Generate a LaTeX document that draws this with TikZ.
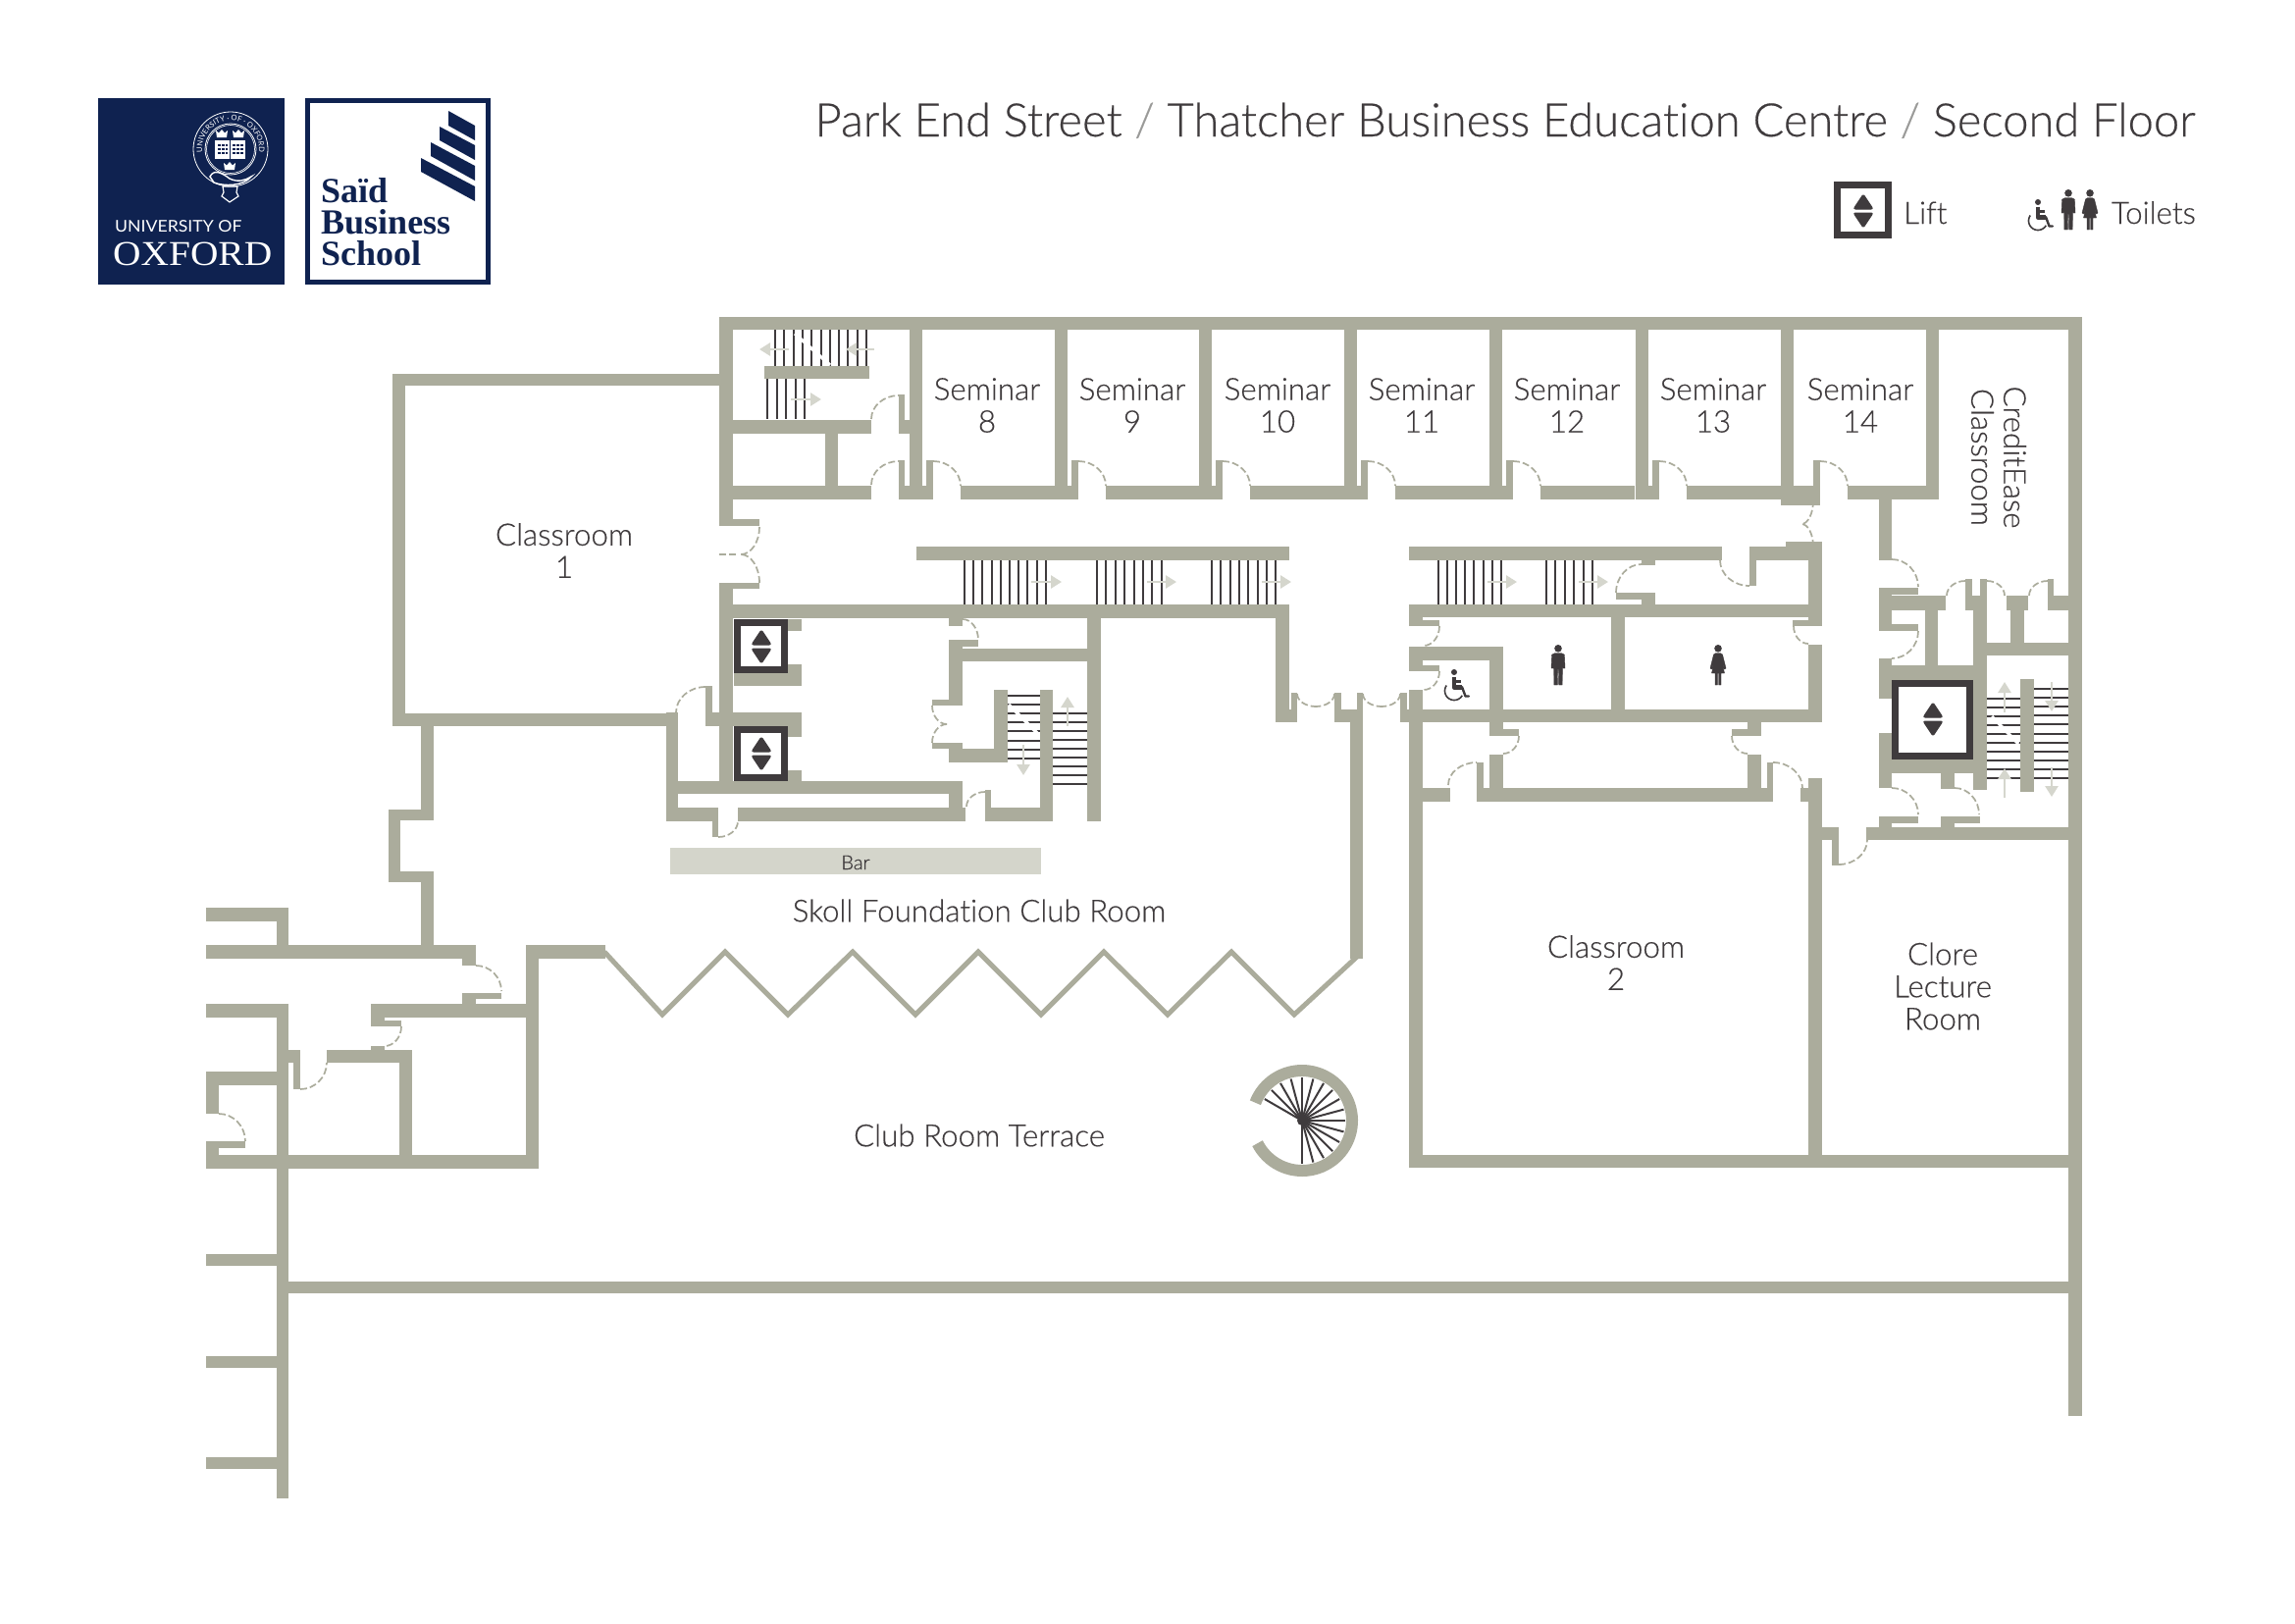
\documentclass[tikz,border=0pt]{standalone}
\usepackage{fontspec}
\setmainfont{Lato Light}[RawFeature={embolden=0.35;-liga;-dlig}]
\newfontfamily\latoreg{Lato}
\newfontfamily\serifd{Liberation Serif}
\usetikzlibrary{calc,arrows.meta,decorations.text}
\definecolor{wallc}{HTML}{ABAC9C}
\definecolor{darkc}{HTML}{3F3B3D}
\definecolor{arrowc}{HTML}{D5D6CD}
\definecolor{barc}{HTML}{D4D5CB}
\definecolor{navy}{HTML}{0F2250}
\definecolor{slashc}{HTML}{9A9A98}
\tikzset{
  doorarc/.style={draw=wallc,line width=1.7pt,dash pattern=on 7pt off 3pt},
  stairline/.style={draw=darkc,line width=2pt},
  lab/.style={font=\fontsize{31.3}{33}\selectfont,text=darkc,align=center,inner sep=0pt},
  ico/.style={fill=darkc,draw=darkc,line width=.4pt,line join=round},
  flowarrow/.style={draw=arrowc,line width=2.6pt,-{Triangle[length=11pt,width=13pt]}},
}
\newcommand{\Wl}[4]{\fill[wallc] (#1,#2) rectangle (#3,#4);}
\newcommand{\Dr}[6]{\draw[doorarc] (#1,#2) .. controls ($(#1,#2)!.55!(#3,#4)$) and ($(#5,#6)!.55!(#3,#4)$) .. (#5,#6);}
\newcommand{\Ar}[4]{\draw[flowarrow] (#1,#2) -- (#3,#4);}
\newcommand{\Stv}[5]{\foreach \i in {1,...,#3}{\draw[stairline] ({#1+(\i-1)*#2},#4) -- ({#1+(\i-1)*#2},#5);}}
\newcommand{\Sth}[5]{\foreach \i in {1,...,#5}{\draw[stairline] (#1,{#3+(\i-1)*#4}) -- (#2,{#3+(\i-1)*#4});}}
\newcommand{\Cut}[4]{\draw[white,line width=3.2pt] (#1,#2) -- (#3,#4);}
\newcommand{\Tri}[2]{%
  \fill[darkc,draw=darkc,line width=1pt,line join=round,rounded corners=2pt] (#1-10,#2-2) -- (#1,#2-17) -- (#1+10,#2-2) -- cycle;
  \fill[darkc,draw=darkc,line width=1pt,line join=round,rounded corners=2pt] (#1-10,#2+2) -- (#1,#2+17) -- (#1+10,#2+2) -- cycle;}
\newcommand{\Lft}[4]{\draw[darkc,line width=7pt] (#1+3.5,#2+3.5) rectangle (#3-3.5,#4-3.5);}
\newcommand{\Man}[3]{\begin{scope}[shift={(#1,#2)},scale=#3]
  \fill[darkc] (0,3.8) circle[radius=3.8];
  \fill[ico] (-3.5,8.7) -- (3.5,8.7) -- (6.4,10.2) -- (7,24) -- (5.2,24) -- (4.4,14) -- (4.2,41) -- (.7,41) -- (.4,25) -- (-.4,25) -- (-.7,41) -- (-4.2,41) -- (-4.4,14) -- (-5.2,24) -- (-7,24) -- (-6.4,10.2) -- cycle;
\end{scope}}
\newcommand{\Wom}[3]{\begin{scope}[shift={(#1,#2)},scale=#3]
  \fill[darkc] (0,3.8) circle[radius=3.8];
  \fill[ico] (-2.5,8.7) -- (2.5,8.7) -- (4.5,10) -- (8,24) -- (6.2,25) -- (3.4,15) -- (6.5,29) -- (3,29) -- (3,41) -- (.7,41) -- (.7,29) -- (-.7,29) -- (-.7,41) -- (-3,41) -- (-3,29) -- (-6.5,29) -- (-3.4,15) -- (-6.2,25) -- (-8,24) -- (-4.5,10) -- cycle;
\end{scope}}
\newcommand{\Whl}[3]{\begin{scope}[shift={(#1,#2)},scale=#3]
  \fill[darkc] (10,3) circle[radius=3];
  \draw[darkc,line width=4.5pt,line join=round] (10,7.5) -- (10,18.5) -- (18,18.5);
  \draw[darkc,line width=2.4pt,line join=round,line cap=round] (18,18) -- (21.5,27.5) -- (25,27.5);
  \draw[darkc,line width=2.2pt] (10,12.5) -- (17,12.5);
  \draw[darkc,line width=1.6pt] plot[domain=215:30,samples=30] ({10+9.5*cos(\x)},{22+9.5*sin(\x)});
\end{scope}}
\newcommand{\Crn}[2]{\fill[white] (#1-5,#2+4) -- (#1+5,#2+4) -- (#1+6,#2-3) -- (#1+3,#2-.5) -- (#1,#2-4) -- (#1-3,#2-.5) -- (#1-6,#2-3) -- cycle;}
\begin{document}
\begin{tikzpicture}[x=1pt,y=-1pt]
\useasboundingbox (0,0) rectangle (2339,1654);
\fill[white] (0,0) rectangle (2339,1654);

% ---- logos
\fill[navy] (100,100) rectangle (290,290);
\draw[navy,line width=4.6pt] (313.3,102.3) rectangle (497.7,287.7);
\fill[navy] (457,113) -- (484,128) -- (484,143) -- (457,128) -- cycle;
\fill[navy] (448,129) -- (484,148) -- (484,163) -- (448,143) -- cycle;
\fill[navy] (439,145) -- (484,169) -- (484,184) -- (439,159) -- cycle;
\fill[navy] (429,161) -- (484,190) -- (484,205) -- (429,175) -- cycle;
\node[anchor=base west,inner sep=0pt,text=navy,font=\serifd\bfseries\fontsize{36}{36}\selectfont] (sbs1) at (327,206) {Saïd};
\node[anchor=base west,inner sep=0pt,text=navy,font=\serifd\bfseries\fontsize{36}{36}\selectfont] (sbs2) at (327,238) {Business};
\node[anchor=base west,inner sep=0pt,text=navy,font=\serifd\bfseries\fontsize{36}{36}\selectfont] (sbs3) at (327,270) {School};
\node[anchor=base west,inner sep=0pt,text=white,xscale=1.07,font=\latoreg\fontsize{16.5}{17}\selectfont] (uni) at (117,236) {UNIVERSITY OF};
\node[anchor=base west,inner sep=0pt,text=white,xscale=1.11,font=\serifd\fontsize{35.5}{36}\selectfont] (oxf) at (115,270) {OXFORD};
% crest
\draw[white,line width=.8pt] (235,152) circle[radius=38];
\draw[white,line width=.8pt] (235,152) circle[radius=26];
\draw[white,line width=.6pt] (235,152) circle[radius=24.5];
\path[decorate,decoration={text along path,text align=center,text={|\latoreg\fontsize{7.6}{8}\selectfont\color{white}|UNIVERSITY {\textperiodcentered} OF {\textperiodcentered} OXFORD}}]
  plot[domain=215:-35,samples=50] ({235+29*cos(\x)},{152-29*sin(\x)});
\Crn{226}{136}\Crn{243}{136}\Crn{234}{169}
\fill[white] (219,143) rectangle (250,162);
\draw[navy,line width=.8pt] (234.5,143) -- (234.5,162);
\foreach \yy in {148,152,156}{\draw[navy,line width=1.2pt,dash pattern=on 3pt off 1pt] (222,\yy) -- (232,\yy);\draw[navy,line width=1.2pt,dash pattern=on 3pt off 1pt] (237,\yy) -- (248,\yy);}
\draw[white,line width=1.4pt] (214,180) .. controls (218,172) and (226,176) .. (234,182) .. controls (242,186) and (250,184) .. (256,180) .. controls (248,190) and (228,190) .. (218,186) -- cycle;
\draw[white,line width=1.2pt] (227,190) -- (242,190) -- (241,196) -- (243,200) -- (234,206) -- (226,200) -- (228,196) -- cycle;

% ---- header and legend
\node[anchor=base east,inner sep=0pt,text=darkc,font=\fontsize{47.1}{49}\selectfont] (title) at (2238,139)
  {Park End Street {\color{slashc}/} Thatcher Business Education Centre {\color{slashc}/} Second Floor};
\Lft{1869}{185}{1928}{243}
\Tri{1899}{215}
\node[lab,anchor=base west] (liftl) at (1940,228) {Lift};
\node[lab,anchor=base east] (toil) at (2238,228) {Toilets};
\Whl{2067}{203}{1}
\Man{2108}{193}{1}
\Wom{2130}{193}{1}

% ---- stairs
\Stv{790}{9.3}{11}{336}{373}\Cut{810}{340}{846}{372}
\Stv{782.4}{9.5}{5}{386}{427}
\Stv{983}{9.2}{10}{571}{616}
\Stv{1118}{9.4}{8}{571}{616}
\Stv{1235}{9.3}{8}{571}{616}
\Stv{1466}{9.1}{8}{571}{616}
\Stv{1576}{9.4}{6}{571}{616}
\Sth{1027}{1060}{708.5}{9.2}{8}\Cut{1028}{718}{1057}{747}
\Sth{1073}{1108}{727}{9}{9}
\Sth{2025}{2059}{712}{9}{10}\Cut{2030}{730}{2057}{758}
\Sth{2073}{2108}{702}{9.1}{11}

% ---- bar
\fill[barc] (683,864) rectangle (1061,891);

% ---- walls: upper block
\Wl{733}{323}{2122}{336}
\Wl{2108}{323}{2122}{1443}
\Wl{733}{323}{747}{536}
\Wl{733}{529}{774}{536}
\Wl{733}{594}{774}{600}
\Wl{733}{594}{747}{809}
\Wl{400}{381}{733}{393}
\Wl{400}{381}{413}{740}
\Wl{400}{727}{691}{740}
\Wl{779}{373}{886}{386}
\Wl{747}{428}{888}{442}
\Wl{916}{402}{922}{442}
\Wl{916}{428}{927}{442}
\Wl{841}{442}{854}{495}
\Wl{747}{495}{888}{509}
\Wl{916}{469}{922}{509}
\Wl{916}{495}{927}{509}
\Dr{888}{427}{888}{403}{916}{403}
\Dr{888}{494}{888}{470}{916}{470}
\foreach \X in {927,1075,1222,1370,1518,1667}{
  \pgfmathsetmacro\Xa{\X+13}\pgfmathsetmacro\Xb{\X+17}\pgfmathsetmacro\Xc{\X+24}\pgfmathsetmacro\Xd{\X+52}\pgfmathsetmacro\Xe{\X+148}
  \Wl{\X}{336}{\Xa}{509}
  \Wl{\X}{495}{\Xc}{509}
  \Wl{\Xb}{469}{\Xc}{509}
  \Wl{\Xd}{495}{\Xe}{509}
  \Dr{\Xc}{470}{\Xd}{470}{\Xd}{495}
}
\Wl{1815}{336}{1828}{509}
\Wl{1815}{495}{1855}{515}
\Wl{1848}{469}{1855}{509}
\Wl{1883}{495}{1976}{509}
\Wl{1963}{336}{1976}{509}
\Dr{1855}{470}{1883}{470}{1883}{495}
% left double door
\Dr{774}{537}{774}{565}{755}{565}
\Dr{774}{594}{774}{565}{755}{565}
\draw[doorarc] (733,565) -- (752,565);
% mid corridor
\Wl{934}{557}{1314}{571}
\Wl{733}{616}{1314}{630}
\Wl{748}{686}{817}{699}
\Wl{803}{631}{817}{643}
\Wl{803}{677}{817}{699}
\Wl{719}{726}{817}{740}
\Wl{803}{740}{817}{751}
\Wl{803}{785}{817}{809}
\Wl{680}{796}{981}{809}
\Wl{679}{726}{691}{837}
\Wl{719}{699}{726}{740}
\Dr{719}{700}{689}{700}{689}{726}
\Wl{680}{823}{732}{837}
\Wl{752}{823}{984}{837}
\Wl{726}{823}{732}{853}
\Dr{732}{853}{752}{853}{752}{837}
\Wl{967}{796}{981}{837}
\Wl{967}{630}{981}{638}
\Wl{967}{652}{981}{719}
\Wl{967}{652}{997}{659}
\Dr{981}{631}{997}{631}{997}{652}
\Wl{981}{661}{1108}{674}
\Wl{1108}{616}{1122}{837}
\Wl{950}{713}{981}{719}
\Wl{950}{757}{981}{763}
\Wl{967}{757}{981}{777}
\Wl{967}{763}{1027}{777}
\Wl{1013}{703}{1027}{777}
\Wl{1060}{703}{1073}{837}
\Wl{1004}{823}{1073}{837}
\Wl{1004}{805}{1010}{837}
\Dr{985}{822}{985}{807}{1004}{807}
\Dr{950}{719}{950}{738}{965}{738}
\Dr{950}{757}{950}{738}{965}{738}
% lifts
\Lft{748}{631}{803}{686}\Tri{776}{659}
\Lft{748}{740}{803}{796}\Tri{776}{768}
% centre right
\Wl{1300}{616}{1314}{736}
\Wl{1300}{723}{1322}{736}
\Wl{1316}{706}{1322}{736}
\Wl{1360}{706}{1367}{736}
\Wl{1360}{723}{1389}{736}
\Wl{1376}{723}{1389}{977}
\Wl{1383}{706}{1389}{736}
\Wl{1427}{706}{1434}{736}
\Dr{1322}{707}{1322}{720}{1341}{720}
\Dr{1360}{707}{1360}{720}{1341}{720}
\Dr{1389}{707}{1389}{720}{1408}{720}
\Dr{1427}{707}{1427}{720}{1408}{720}
\Wl{1427}{723}{1857}{736}
\Wl{1436}{703}{1450}{1190}
\Wl{1436}{557}{1755}{571}
\Wl{1783}{557}{1790}{597}
\Wl{1783}{557}{1857}{571}
\Dr{1753}{571}{1753}{597}{1783}{597}
\Wl{1436}{616}{1857}{629}
\Wl{1436}{557}{1450}{571}
\Wl{1436}{616}{1450}{638}
\Wl{1436}{632}{1467}{638}
\Dr{1467}{638}{1467}{658}{1451}{658}
\Wl{1436}{659}{1532}{673}
\Wl{1518}{659}{1532}{736}
\Wl{1436}{659}{1450}{684}
\Wl{1436}{678}{1467}{684}
\Dr{1467}{684}{1467}{703}{1451}{703}
\Wl{1642}{629}{1656}{723}
\Wl{1673}{571}{1687}{576}
\Wl{1673}{604}{1687}{616}
\Wl{1647}{604}{1687}{611}
\Dr{1647}{604}{1647}{575}{1673}{575}
\Wl{1843}{557}{1857}{638}
\Wl{1827}{632}{1857}{638}
\Dr{1828}{638}{1828}{656}{1843}{656}
\Wl{1843}{657}{1857}{736}
\Wl{1518}{736}{1532}{750}
\Wl{1518}{743}{1548}{750}
\Dr{1548}{750}{1548}{768}{1532}{768}
\Wl{1518}{769}{1532}{817}
\Wl{1781}{736}{1795}{750}
\Wl{1765}{743}{1795}{750}
\Dr{1765}{750}{1765}{768}{1781}{768}
\Wl{1781}{769}{1795}{817}
\Wl{1436}{803}{1478}{817}
\Wl{1505}{777}{1512}{817}
\Wl{1505}{803}{1800}{817}
\Wl{1801}{777}{1807}{817}
\Wl{1795}{803}{1807}{817}
\Wl{1835}{803}{1857}{817}
\Dr{1476}{800}{1476}{777}{1505}{777}
\Dr{1807}{777}{1837}{777}{1837}{803}
\Wl{1843}{793}{1857}{1190}
\Wl{1843}{843}{1873}{856}
\Wl{1867}{843}{1874}{882}
\Wl{1902}{843}{2108}{856}
\Dr{1874}{881}{1903}{881}{1903}{856}
\Wl{1436}{1177}{2122}{1190}
% right block
\Dr{1848}{510}{1848}{534}{1836}{534}
\Dr{1848}{557}{1848}{534}{1836}{534}
\Wl{1820}{552}{1857}{558}
\Wl{1915}{509}{1928}{571}
\Wl{1915}{599}{1955}{606}
\Dr{1928}{570}{1955}{570}{1955}{598}
\Wl{1915}{599}{1928}{643}
\Wl{1915}{607}{1983}{622}
\Wl{2003}{590}{2010}{622}
\Wl{2003}{607}{2025}{622}
\Wl{2018}{590}{2025}{622}
\Wl{2045}{607}{2067}{622}
\Wl{2087}{590}{2093}{622}
\Wl{2087}{607}{2108}{622}
\Dr{1984}{607}{1984}{592}{2003}{592}
\Dr{2025}{592}{2043}{592}{2043}{607}
\Dr{2068}{607}{2068}{592}{2087}{592}
\Wl{1962}{622}{1975}{678}
\Wl{2011}{622}{2025}{805}
\Wl{2049}{622}{2063}{655}
\Wl{2025}{655}{2108}{668}
\Wl{1915}{636}{1955}{643}
\Dr{1955}{643}{1955}{671}{1928}{671}
\Wl{1915}{671}{1928}{712}
\Wl{1915}{678}{2025}{693}
\Wl{1915}{747}{1928}{803}
\Wl{1915}{774}{2025}{788}
\Lft{1928}{693}{2011}{774}\Tri{1970}{733}
\Wl{1978}{788}{1992}{804}
\Wl{1978}{832}{2018}{839}
\Wl{1978}{832}{1992}{856}
\Dr{1992}{803}{2017}{803}{2017}{830}
\Wl{1915}{832}{1955}{839}
\Wl{1915}{832}{1928}{856}
\Dr{1928}{803}{1955}{803}{1955}{830}
\Wl{2059}{692}{2073}{807}
% left outer
\Wl{429}{740}{442}{836}
\Wl{396}{825}{442}{836}
\Wl{396}{825}{408}{899}
\Wl{396}{888}{442}{899}
\Wl{429}{888}{442}{977}
\Wl{210}{963}{485}{977}
\Wl{282}{925}{294}{977}
\Wl{210}{925}{294}{939}
\Wl{471}{963}{485}{984}
\Wl{471}{1012}{485}{1023}
\Wl{471}{1012}{511}{1018}
\Dr{485}{984}{511}{984}{511}{1010}
\Wl{378}{1023}{549}{1037}
\Wl{378}{1023}{392}{1046}
\Wl{378}{1040}{409}{1046}
\Dr{409}{1046}{409}{1066}{392}{1066}
\Wl{378}{1066}{392}{1083}
\Wl{333}{1070}{420}{1083}
\Wl{407}{1070}{420}{1190}
\Wl{210}{1177}{549}{1191}
\Wl{536}{963}{549}{1191}
\Wl{536}{963}{617}{977}
\Wl{282}{1023}{294}{1527}
\Wl{210}{1023}{294}{1037}
\Wl{294}{1070}{306}{1083}
\Wl{299}{1070}{306}{1110}
\Dr{306}{1110}{333}{1110}{333}{1083}
\Wl{210}{1092}{294}{1106}
\Wl{210}{1092}{223}{1135}
\Wl{210}{1163}{223}{1191}
\Wl{223}{1163}{250}{1170}
\Dr{223}{1135}{250}{1135}{250}{1163}
\Wl{210}{1278}{294}{1290}
\Wl{210}{1382}{294}{1394}
\Wl{210}{1485}{294}{1497}
\Wl{282}{1306}{2122}{1318}
% zigzag
\draw[wallc,line width=5pt,miter limit=10] (616,970) -- (675,1034) -- (739,970) -- (803,1034) -- (869,970) -- (933,1034) -- (997,970) -- (1061,1034) -- (1125,970) -- (1190,1034) -- (1255,970) -- (1319,1034) -- (1383,975);

% ---- flow arrows
\Ar{804}{356}{774}{356}
\Ar{891}{356}{862}{356}
\Ar{806}{407}{837}{407}
\Ar{1051}{593}{1082}{593}
\Ar{1169}{593}{1199}{593}
\Ar{1286}{593}{1316}{593}
\Ar{1516}{593}{1546}{593}
\Ar{1609}{593}{1639}{593}
\Ar{1088}{740}{1088}{710}
\Ar{1043}{759}{1043}{790}
\Ar{2043}{726}{2043}{695}
\Ar{2043}{813}{2043}{783}
\Ar{2091}{695}{2091}{725}
\Ar{2091}{782}{2091}{812}

% ---- spiral stair
\foreach \a in {150,135,...,-90}{\draw[stairline] (1327,1142) -- ({1327+44*cos(\a)},{1142-44*sin(\a)});}
\fill[darkc] (1327,1142) circle[radius=5];
\draw[wallc,line width=12pt] plot[domain=-153:159,samples=70] ({1327+51*cos(\x)},{1142-51*sin(\x)});

% ---- toilet icons
\Man{1588}{657}{1}
\Wom{1751}{657}{1}
\Whl{1472}{682}{1}

% ---- labels
\node[lab] (c1) at (575,561) {Classroom\\1};
\node[lab] (c2) at (1647,981) {Classroom\\2};
\node[lab] (s8) at (1006,413) {Seminar\\8};
\node[lab] (s9) at (1154,413) {Seminar\\9};
\node[lab] (s10) at (1302,413) {Seminar\\10};
\node[lab] (s11) at (1449,413) {Seminar\\11};
\node[lab] (s12) at (1597,413) {Seminar\\12};
\node[lab] (s13) at (1746,413) {Seminar\\13};
\node[lab] (s14) at (1896,413) {Seminar\\14};
\node[lab,rotate=-90] (ce) at (2037,466) {CreditEase\\Classroom};
\node[lab] (clore) at (1980,1005) {Clore\\Lecture\\Room};
\node[lab] (skoll) at (998,928) {Skoll Foundation Club Room};
\node[lab] (terr) at (998,1157) {Club Room Terrace};
\node[lab,font=\fontsize{20}{22}\selectfont] (bar) at (872,879) {Bar};
\end{tikzpicture}
\end{document}
